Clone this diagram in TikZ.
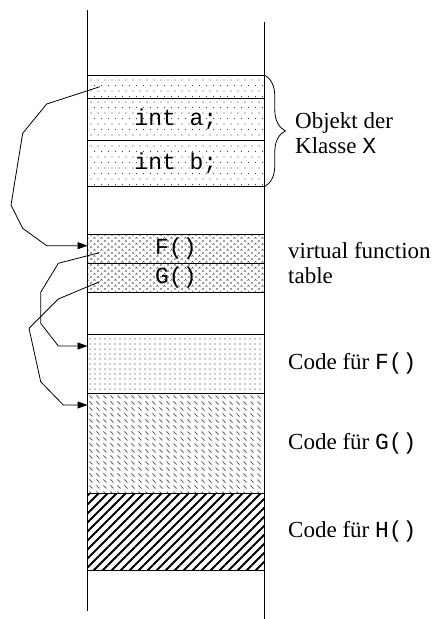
\documentclass[tikz,border=0pt]{standalone}
\usepackage{fontspec}
\setmainfont{Liberation Serif}
\setmonofont{Liberation Mono}
\usetikzlibrary{positioning, patterns, arrows.meta, decorations.pathreplacing}

\pgfdeclarepatternformonly{sparsedots}{\pgfqpoint{-1pt}{-1pt}}{\pgfqpoint{8pt}{12pt}}{\pgfqpoint{7pt}{11pt}}{
    \pgfpathcircle{\pgfqpoint{0pt}{0pt}}{0.6pt}
    \pgfpathcircle{\pgfqpoint{3.5pt}{5.5pt}}{0.6pt}
    \pgfusepath{fill}
}
\pgfdeclarepatternformonly{densedots}{\pgfqpoint{-1pt}{-1pt}}{\pgfqpoint{6pt}{6pt}}{\pgfqpoint{5pt}{5pt}}{
    \pgfpathcircle{\pgfqpoint{0pt}{0pt}}{0.65pt}
    \pgfusepath{fill}
}
\pgfdeclarepatternformonly{carets}{\pgfqpoint{-1.5pt}{-1.5pt}}{\pgfqpoint{8.5pt}{7.5pt}}{\pgfqpoint{7pt}{6pt}}{
    \pgfsetlinewidth{0.5pt}
    \pgfpathmoveto{\pgfqpoint{-1pt}{-0.8pt}}
    \pgfpathlineto{\pgfqpoint{0pt}{0.8pt}}
    \pgfpathlineto{\pgfqpoint{1pt}{-0.8pt}}
    \pgfpathmoveto{\pgfqpoint{2.5pt}{2.2pt}}
    \pgfpathlineto{\pgfqpoint{3.5pt}{3.8pt}}
    \pgfpathlineto{\pgfqpoint{4.5pt}{2.2pt}}
    \pgfusepath{stroke}
}
\pgfdeclarepatternformonly{dashmarks}{\pgfqpoint{-2pt}{-2pt}}{\pgfqpoint{9pt}{8pt}}{\pgfqpoint{7pt}{6pt}}{
    \pgfsetlinewidth{0.9pt}
    \pgfpathmoveto{\pgfqpoint{-1.5pt}{1.5pt}}
    \pgfpathlineto{\pgfqpoint{1.5pt}{-1.5pt}}
    \pgfusepath{stroke}
}
\pgfdeclarepatternformonly{hatch}{\pgfqpoint{-1pt}{-1pt}}{\pgfqpoint{10pt}{10pt}}{\pgfqpoint{9pt}{9pt}}{
    \pgfsetlinewidth{1.8pt}
    \pgfpathmoveto{\pgfqpoint{0pt}{0pt}}
    \pgfpathlineto{\pgfqpoint{9.1pt}{9.1pt}}
    \pgfusepath{stroke}
}

\tikzstyle{slot} = [
    rectangle,
    minimum width=176.8pt,
    inner sep=0pt,
    outer sep=0pt,
    line width=1pt,
    draw=black,
    font=\fontsize{23}{25}\ttfamily\selectfont
]
\tikzstyle{note} = [
    inner sep=0pt,
    align=left
]
\tikzstyle{ptr} = [line width=0.8pt, -{Triangle[length=10pt,width=7pt]}]
\tikzstyle{brace} = [decorate, decoration={brace, amplitude=21pt}, line width=0.8pt]

\begin{document}
\begin{tikzpicture}[x=1pt, y=-1pt, font=\fontsize{23}{25}\selectfont]

\useasboundingbox (0,0) rectangle (434,619);

\node (vptr) [slot, pattern=sparsedots, pattern color=black!75, minimum height=23.3pt, anchor=north] at (175.9,75) {};

\node (inta) [slot, pattern=sparsedots, pattern color=black!75, minimum height=41.7pt, below=0pt of vptr] {int a;};

\node (intb) [slot, pattern=sparsedots, pattern color=black!75, minimum height=46.7pt, below=0pt of inta] {int b;};

\node (fslot) [slot, pattern=carets, pattern color=black!65, minimum height=29.3pt, anchor=north] at (175.9,234) {F()};

\node (gslot) [slot, pattern=carets, pattern color=black!65, minimum height=29.4pt, below=0pt of fslot] {G()};

\node (codef) [slot, pattern=densedots, pattern color=black!85, minimum height=59pt, anchor=north] at (175.9,334.3) {};

\node (codeg) [slot, pattern=dashmarks, pattern color=black!60, minimum height=100pt, below=0pt of codef] {};

\node (codeh) [slot, pattern=hatch, minimum height=76.7pt, below=0pt of codeg] {};

\draw [line width=1pt] (vptr.north west |- 0,10) -- (vptr.north west |- 0,611);
\draw [line width=1pt] (vptr.north east |- 0,22) -- (vptr.north east |- 0,619);

\draw [brace] (vptr.north east) -- (intb.south east);

\node (objlbl) [note, anchor=west] at (295,133) {Objekt der\\Klasse \texttt{X}};

\node (vtlbl) [note, right=23.7pt of fslot.south east] {virtual function\\table};

\node (flbl) [note, right=23.7pt of codef] {Code für \texttt{F()}};

\node (glbl) [note, right=23.7pt of codeg] {Code für \texttt{G()}};

\node (hlbl) [note, right=23.7pt of codeh] {Code für \texttt{H()}};

\draw [ptr] ([xshift=12.5pt]vptr.west) -- (46.7,104) -- (22.7,133.3) -- (11,205)
    -- (22.7,228.3) -- (46.7,245.7) -- (fslot.west |- 0,245.7);

\draw [ptr] ([xshift=12pt, yshift=-4pt]fslot.west) -- (58.3,263.3) -- (40.7,292.3)
    -- (40.7,323.3) -- (58.3,346) -- (codef.west |- 0,346);

\draw [ptr] ([xshift=12pt, yshift=-3.7pt]gslot.west) -- (58.3,299) -- (29,328.3)
    -- (40.7,381.7) -- (63.3,405) -- (codeg.west |- 0,405);

\end{tikzpicture}
\end{document}
